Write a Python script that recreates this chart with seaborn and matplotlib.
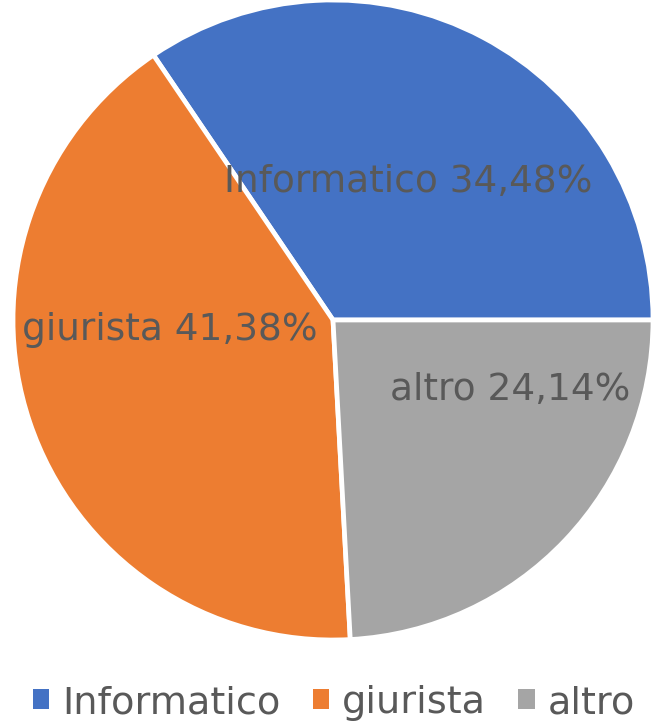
import matplotlib
matplotlib.use("Agg")
import matplotlib.pyplot as plt
import seaborn as sns

# data
categories = ["Informatico", "giurista", "altro"]
shares = [34.48, 41.38, 24.14]
colors = ["#4472C4", "#ED7D31", "#A5A5A5"]

TEXT_COL = "#595959"
W, H = 655, 723

sns.set_theme(style="white")
plt.rcParams['font.family'] = ['DejaVu Sans']
pal = sns.color_palette(colors)

fig = plt.figure(figsize=(W / 100, H / 100), dpi=100)
# pie centre ~ (333, 320), radius ~320 px
r_px = 320
cx, cy = 333, 320
ax = fig.add_axes([(cx - r_px) / W, (H - cy - r_px) / H, 2 * r_px / W, 2 * r_px / H])

wedges, texts = ax.pie(shares, colors=pal, startangle=0, counterclock=True,
                       labels=[f"{c} {v:.2f}%".replace(".", ",") for c, v in zip(categories, shares)],
                       labeldistance=0.5,
                       wedgeprops=dict(edgecolor="white", linewidth=3.4),
                       textprops=dict(color=TEXT_COL, fontsize=27))
ax.set_xlim(-1, 1)
ax.set_ylim(-1, 1)
ax.set_aspect("equal")

# label spots as placed in the original (radius units)
label_pos = [(0.235, 0.43), (-0.51, -0.03), (0.555, -0.22)]
for t, p in zip(texts, label_pos):
    t.set_position(p)
    t.set_ha("center")
    t.set_va("center")

leg = fig.legend(wedges, categories, loc="center", bbox_to_anchor=(334 / W, 1 - 703 / H),
                 ncol=3, frameon=False, fontsize=27.5, handlelength=0.42, handleheight=0.42,
                 handletextpad=0.34, columnspacing=0.85, labelcolor=TEXT_COL,
                 borderpad=0, borderaxespad=0)
for h in leg.legend_handles:
    h.set_linewidth(0)

fig.savefig("out.png", dpi=100)
